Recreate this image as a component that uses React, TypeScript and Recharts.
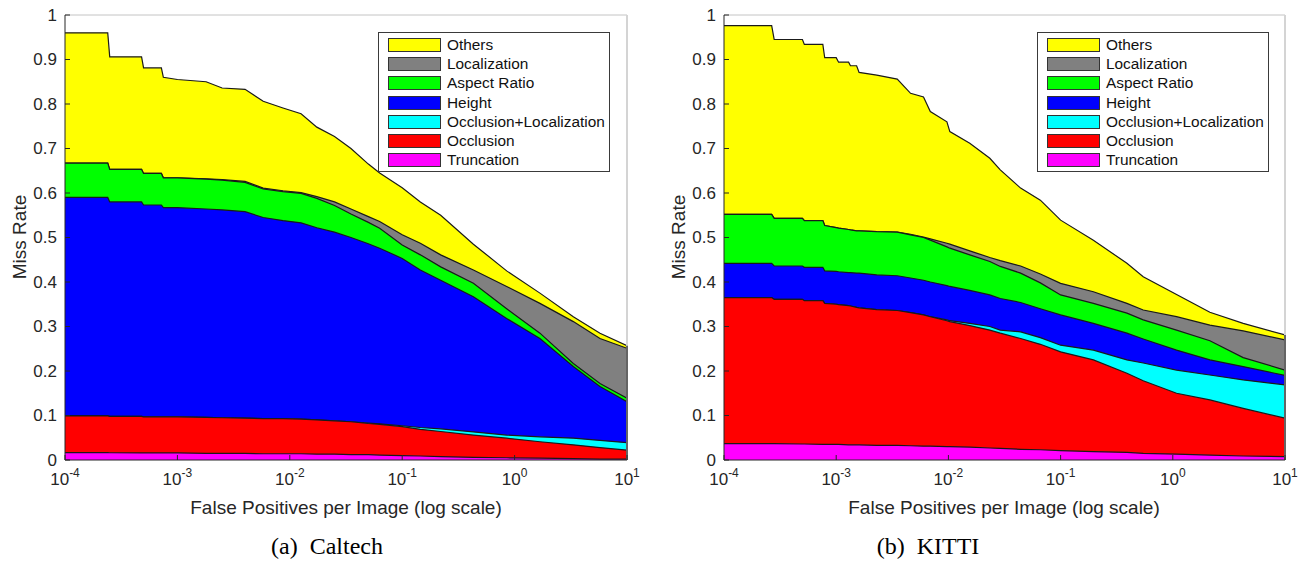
import React from 'react';
import { AreaChart, Area, XAxis, YAxis, ReferenceLine } from 'recharts';

// ---- Caltech (a) : stacked boundaries ----
const caltechFppi = [0.0001, 0.00024, 0.00025, 0.00048, 0.0005, 0.00072, 0.00075, 0.001, 0.0018, 0.0025, 0.004, 0.0058, 0.0087, 0.0126, 0.0174, 0.025, 0.035, 0.05, 0.063, 0.1, 0.145, 0.22, 0.43, 0.85, 1.68, 3.33, 5.75, 10];
const caltechOthers = [0.96, 0.96, 0.906, 0.906, 0.881, 0.881, 0.86, 0.855, 0.85, 0.836, 0.833, 0.806, 0.791, 0.778, 0.748, 0.727, 0.7, 0.665, 0.645, 0.612, 0.58, 0.55, 0.485, 0.425, 0.375, 0.322, 0.285, 0.257];
const caltechLocalization = [0.667, 0.667, 0.653, 0.653, 0.644, 0.644, 0.634, 0.634, 0.632, 0.63, 0.626, 0.611, 0.605, 0.601, 0.592, 0.58, 0.564, 0.547, 0.536, 0.506, 0.487, 0.461, 0.427, 0.39, 0.352, 0.311, 0.273, 0.251];
const caltechAspect = [0.667, 0.667, 0.653, 0.653, 0.644, 0.644, 0.634, 0.634, 0.631, 0.629, 0.624, 0.609, 0.603, 0.599, 0.588, 0.572, 0.553, 0.534, 0.521, 0.483, 0.461, 0.434, 0.397, 0.34, 0.285, 0.217, 0.172, 0.139];
const caltechHeight = [0.59, 0.59, 0.58, 0.58, 0.573, 0.573, 0.567, 0.567, 0.564, 0.562, 0.558, 0.545, 0.538, 0.533, 0.522, 0.512, 0.5, 0.486, 0.476, 0.453, 0.427, 0.404, 0.367, 0.318, 0.273, 0.21, 0.165, 0.131];
const caltechOcclLoc = [0.099, 0.099, 0.098, 0.098, 0.097, 0.097, 0.097, 0.097, 0.096, 0.095, 0.094, 0.093, 0.093, 0.092, 0.09, 0.088, 0.086, 0.083, 0.081, 0.077, 0.073, 0.07, 0.063, 0.056, 0.052, 0.049, 0.044, 0.039];
const caltechOcclusion = [0.099, 0.099, 0.098, 0.098, 0.097, 0.097, 0.097, 0.097, 0.096, 0.095, 0.094, 0.093, 0.093, 0.092, 0.09, 0.088, 0.086, 0.082, 0.08, 0.075, 0.069, 0.064, 0.056, 0.049, 0.041, 0.034, 0.028, 0.022];
const caltechTruncation = [0.0165, 0.0165, 0.0163, 0.016, 0.016, 0.016, 0.016, 0.016, 0.015, 0.015, 0.015, 0.014, 0.014, 0.014, 0.013, 0.013, 0.012, 0.012, 0.011, 0.01, 0.009, 0.0075, 0.006, 0.005, 0.004, 0.003, 0.002, 0.002];

// ---- KITTI (b) ----
const kittiFppi = [0.0001, 0.000266, 0.00028, 0.0005, 0.00052, 0.00076, 0.00079, 0.001, 0.00105, 0.00129, 0.00134, 0.00152, 0.0016, 0.0023, 0.0035, 0.0046, 0.006, 0.0069, 0.0097, 0.0103, 0.0155, 0.0234, 0.029, 0.044, 0.066, 0.1, 0.196, 0.39, 0.545, 1.08, 2.14, 4.24, 10];
const kittiOthers = [0.976, 0.976, 0.945, 0.945, 0.934, 0.934, 0.904, 0.904, 0.894, 0.894, 0.886, 0.886, 0.871, 0.865, 0.856, 0.824, 0.816, 0.783, 0.76, 0.738, 0.712, 0.678, 0.652, 0.611, 0.584, 0.539, 0.494, 0.442, 0.412, 0.372, 0.332, 0.307, 0.281];
const kittiLocalization = [0.552, 0.552, 0.543, 0.543, 0.538, 0.538, 0.527, 0.522, 0.521, 0.518, 0.517, 0.515, 0.515, 0.513, 0.512, 0.507, 0.501, 0.497, 0.487, 0.485, 0.47, 0.455, 0.448, 0.436, 0.418, 0.397, 0.378, 0.352, 0.337, 0.322, 0.303, 0.29, 0.27];
const kittiAspect = [0.552, 0.552, 0.543, 0.543, 0.538, 0.538, 0.527, 0.522, 0.521, 0.518, 0.517, 0.515, 0.515, 0.513, 0.512, 0.506, 0.5, 0.494, 0.479, 0.476, 0.461, 0.446, 0.435, 0.42, 0.398, 0.371, 0.352, 0.33, 0.315, 0.292, 0.268, 0.23, 0.202];
const kittiHeight = [0.442, 0.442, 0.436, 0.436, 0.433, 0.433, 0.425, 0.424, 0.423, 0.421, 0.421, 0.42, 0.42, 0.416, 0.414, 0.409, 0.404, 0.4, 0.392, 0.39, 0.381, 0.371, 0.363, 0.354, 0.34, 0.326, 0.307, 0.285, 0.272, 0.247, 0.225, 0.21, 0.19];
const kittiOcclLoc = [0.365, 0.365, 0.361, 0.361, 0.358, 0.358, 0.352, 0.35, 0.349, 0.347, 0.346, 0.343, 0.342, 0.338, 0.336, 0.331, 0.326, 0.322, 0.315, 0.313, 0.307, 0.3, 0.292, 0.288, 0.275, 0.258, 0.247, 0.225, 0.218, 0.202, 0.191, 0.18, 0.169];
const kittiOcclusion = [0.365, 0.365, 0.361, 0.361, 0.358, 0.358, 0.352, 0.35, 0.349, 0.347, 0.346, 0.343, 0.342, 0.338, 0.336, 0.331, 0.326, 0.322, 0.313, 0.311, 0.302, 0.292, 0.285, 0.273, 0.26, 0.243, 0.225, 0.195, 0.178, 0.15, 0.135, 0.116, 0.094];
const kittiTruncation = [0.037, 0.037, 0.037, 0.036, 0.036, 0.035, 0.035, 0.035, 0.035, 0.034, 0.034, 0.034, 0.034, 0.033, 0.033, 0.032, 0.031, 0.031, 0.03, 0.03, 0.029, 0.027, 0.026, 0.024, 0.023, 0.021, 0.019, 0.017, 0.015, 0.013, 0.011, 0.009, 0.0075];

const X_TICKS = [0.0001, 0.001, 0.01, 0.1, 1, 10];
const Y_TICKS = [0, 0.1, 0.2, 0.3, 0.4, 0.5, 0.6, 0.7, 0.8, 0.9, 1];
const Y_LABELS = ['0', '0.1', '0.2', '0.3', '0.4', '0.5', '0.6', '0.7', '0.8', '0.9', '1'];

// legend order == drawing order (top boundary first)
const SERIES = [
  { key: 'others', name: 'Others', color: '#ffff00' },
  { key: 'localization', name: 'Localization', color: '#808080' },
  { key: 'aspect', name: 'Aspect Ratio', color: '#00ff00' },
  { key: 'height', name: 'Height', color: '#0000ff' },
  { key: 'occlLoc', name: 'Occlusion+Localization', color: '#00ffff' },
  { key: 'occlusion', name: 'Occlusion', color: '#ff0000' },
  { key: 'truncation', name: 'Truncation', color: '#ff00ff' },
];

const AXIS = '#262626';
const SANS = '"Liberation Sans", Arial, sans-serif';

function buildRows(x: number[], cols: Record<string, number[]>) {
  return x.map((v, i) => {
    const row: Record<string, number> = { x: v };
    Object.keys(cols).forEach((k) => {
      row[k] = cols[k][i];
    });
    return row;
  });
}

const caltechRows = buildRows(caltechFppi, {
  others: caltechOthers,
  localization: caltechLocalization,
  aspect: caltechAspect,
  height: caltechHeight,
  occlLoc: caltechOcclLoc,
  occlusion: caltechOcclusion,
  truncation: caltechTruncation,
});

const kittiRows = buildRows(kittiFppi, {
  others: kittiOthers,
  localization: kittiLocalization,
  aspect: kittiAspect,
  height: kittiHeight,
  occlLoc: kittiOcclLoc,
  occlusion: kittiOcclusion,
  truncation: kittiTruncation,
});

const LogTick = (props: any) => {
  const { x, y, payload } = props;
  const exp = Math.round(Math.log10(payload.value));
  return (
    <g>
      <line x1={x} x2={x} y1={y - 8} y2={y - 13} stroke={AXIS} />
      <text x={x} y={y + 17} textAnchor="middle" fill={AXIS} fontSize={17} fontFamily={SANS}>
        <tspan>10</tspan>
        <tspan dy={-8} fontSize={12}>{exp}</tspan>
      </text>
    </g>
  );
};

const YTick = (props: any) => {
  const { x, y, payload, index } = props;
  return (
    <g>
      <line x1={x + 8} x2={x + 13} y1={y} y2={y} stroke={AXIS} />
      <text x={x} y={y} dy="0.35em" textAnchor="end" fill={AXIS} fontSize={17} fontFamily={SANS}>
        {Y_LABELS[index] ?? payload.value}
      </text>
    </g>
  );
};

function LegendBox({ left, top }: { left: number; top: number }) {
  return (
    <div
      style={{
        position: 'absolute',
        left,
        top,
        width: 232,
        height: 140,
        boxSizing: 'border-box',
        border: '1px solid #3a3a3a',
        background: '#fff',
        paddingTop: 2.4,
        fontFamily: SANS,
        fontSize: 15.4,
        color: '#111',
      }}
    >
      {SERIES.map((s) => (
        <div key={s.key} style={{ height: 19.2, display: 'flex', alignItems: 'center' }}>
          <div
            style={{
              marginLeft: 9,
              width: 53,
              height: 14,
              boxSizing: 'border-box',
              border: '1.5px solid #333',
              background: s.color,
            }}
          />
          <span style={{ marginLeft: 6, whiteSpace: 'nowrap' }}>{s.name}</span>
        </div>
      ))}
    </div>
  );
}

function Panel({ rows, width, marginLeft, marginRight }: { rows: any[]; width: number; marginLeft: number; marginRight: number }) {
  const last = rows[rows.length - 1];
  return (
    <AreaChart width={width} height={567} data={rows} margin={{ top: 15, right: marginRight, bottom: 77, left: marginLeft }}>
      <XAxis
        dataKey="x"
        type="number"
        scale="log"
        domain={[0.0001, 10]}
        ticks={X_TICKS}
        allowDataOverflow
        interval={0}
        tick={<LogTick />}
        tickLine={false}
        axisLine={{ stroke: AXIS }}
        height={30}
      />
      <YAxis
        type="number"
        domain={[0, 1]}
        ticks={Y_TICKS}
        interval={0}
        width={40}
        tick={<YTick />}
        tickLine={false}
        axisLine={{ stroke: AXIS }}
      />
      <ReferenceLine y={1} stroke="#c4c4c4" />
      <ReferenceLine x={10} stroke="#d4d4d4" strokeWidth={2} />
      {SERIES.map((s) => (
        <Area
          key={s.key}
          type="linear"
          dataKey={s.key}
          name={s.name}
          fill={s.color}
          fillOpacity={1}
          stroke="#1a1a1a"
          strokeWidth={1.2}
          isAnimationActive={false}
          dot={false}
          activeDot={false}
        />
      ))}
      <ReferenceLine
        segment={[
          { x: 10, y: 0 },
          { x: 10, y: last.others },
        ]}
        stroke="#1a1a1a"
        strokeWidth={1.2}
      />
    </AreaChart>
  );
}

const textStyle = (left: number, top: number, extra: React.CSSProperties = {}): React.CSSProperties => ({
  position: 'absolute',
  left,
  top,
  transform: 'translate(-50%, -50%)',
  whiteSpace: 'nowrap',
  fontFamily: SANS,
  fontSize: 19,
  color: AXIS,
  ...extra,
});

export default function App() {
  return (
    <div style={{ position: 'absolute', left: 0, top: 0, width: 1307, height: 567, background: '#fff', overflow: 'hidden' }}>
      <div style={{ position: 'absolute', left: 0, top: 0 }}>
        <Panel rows={caltechRows} width={650} marginLeft={25} marginRight={23} />
      </div>
      <div style={{ position: 'absolute', left: 650, top: 0 }}>
        <Panel rows={kittiRows} width={657} marginLeft={34} marginRight={22} />
      </div>

      <LegendBox left={378} top={32} />
      <LegendBox left={1037} top={32} />

      <div style={textStyle(20, 237, { transform: 'translate(-50%, -50%) rotate(-90deg)' })}>Miss Rate</div>
      <div style={textStyle(679, 237, { transform: 'translate(-50%, -50%) rotate(-90deg)' })}>Miss Rate</div>

      <div style={textStyle(346, 508)}>False Positives per Image (log scale)</div>
      <div style={textStyle(1004, 508)}>False Positives per Image (log scale)</div>

      <div style={textStyle(327, 546, { fontFamily: '"Liberation Serif", "Times New Roman", serif', fontSize: 24, color: '#000' })}>(a)&nbsp; Caltech</div>
      <div style={textStyle(928, 546, { fontFamily: '"Liberation Serif", "Times New Roman", serif', fontSize: 24, color: '#000' })}>(b)&nbsp; KITTI</div>
    </div>
  );
}
